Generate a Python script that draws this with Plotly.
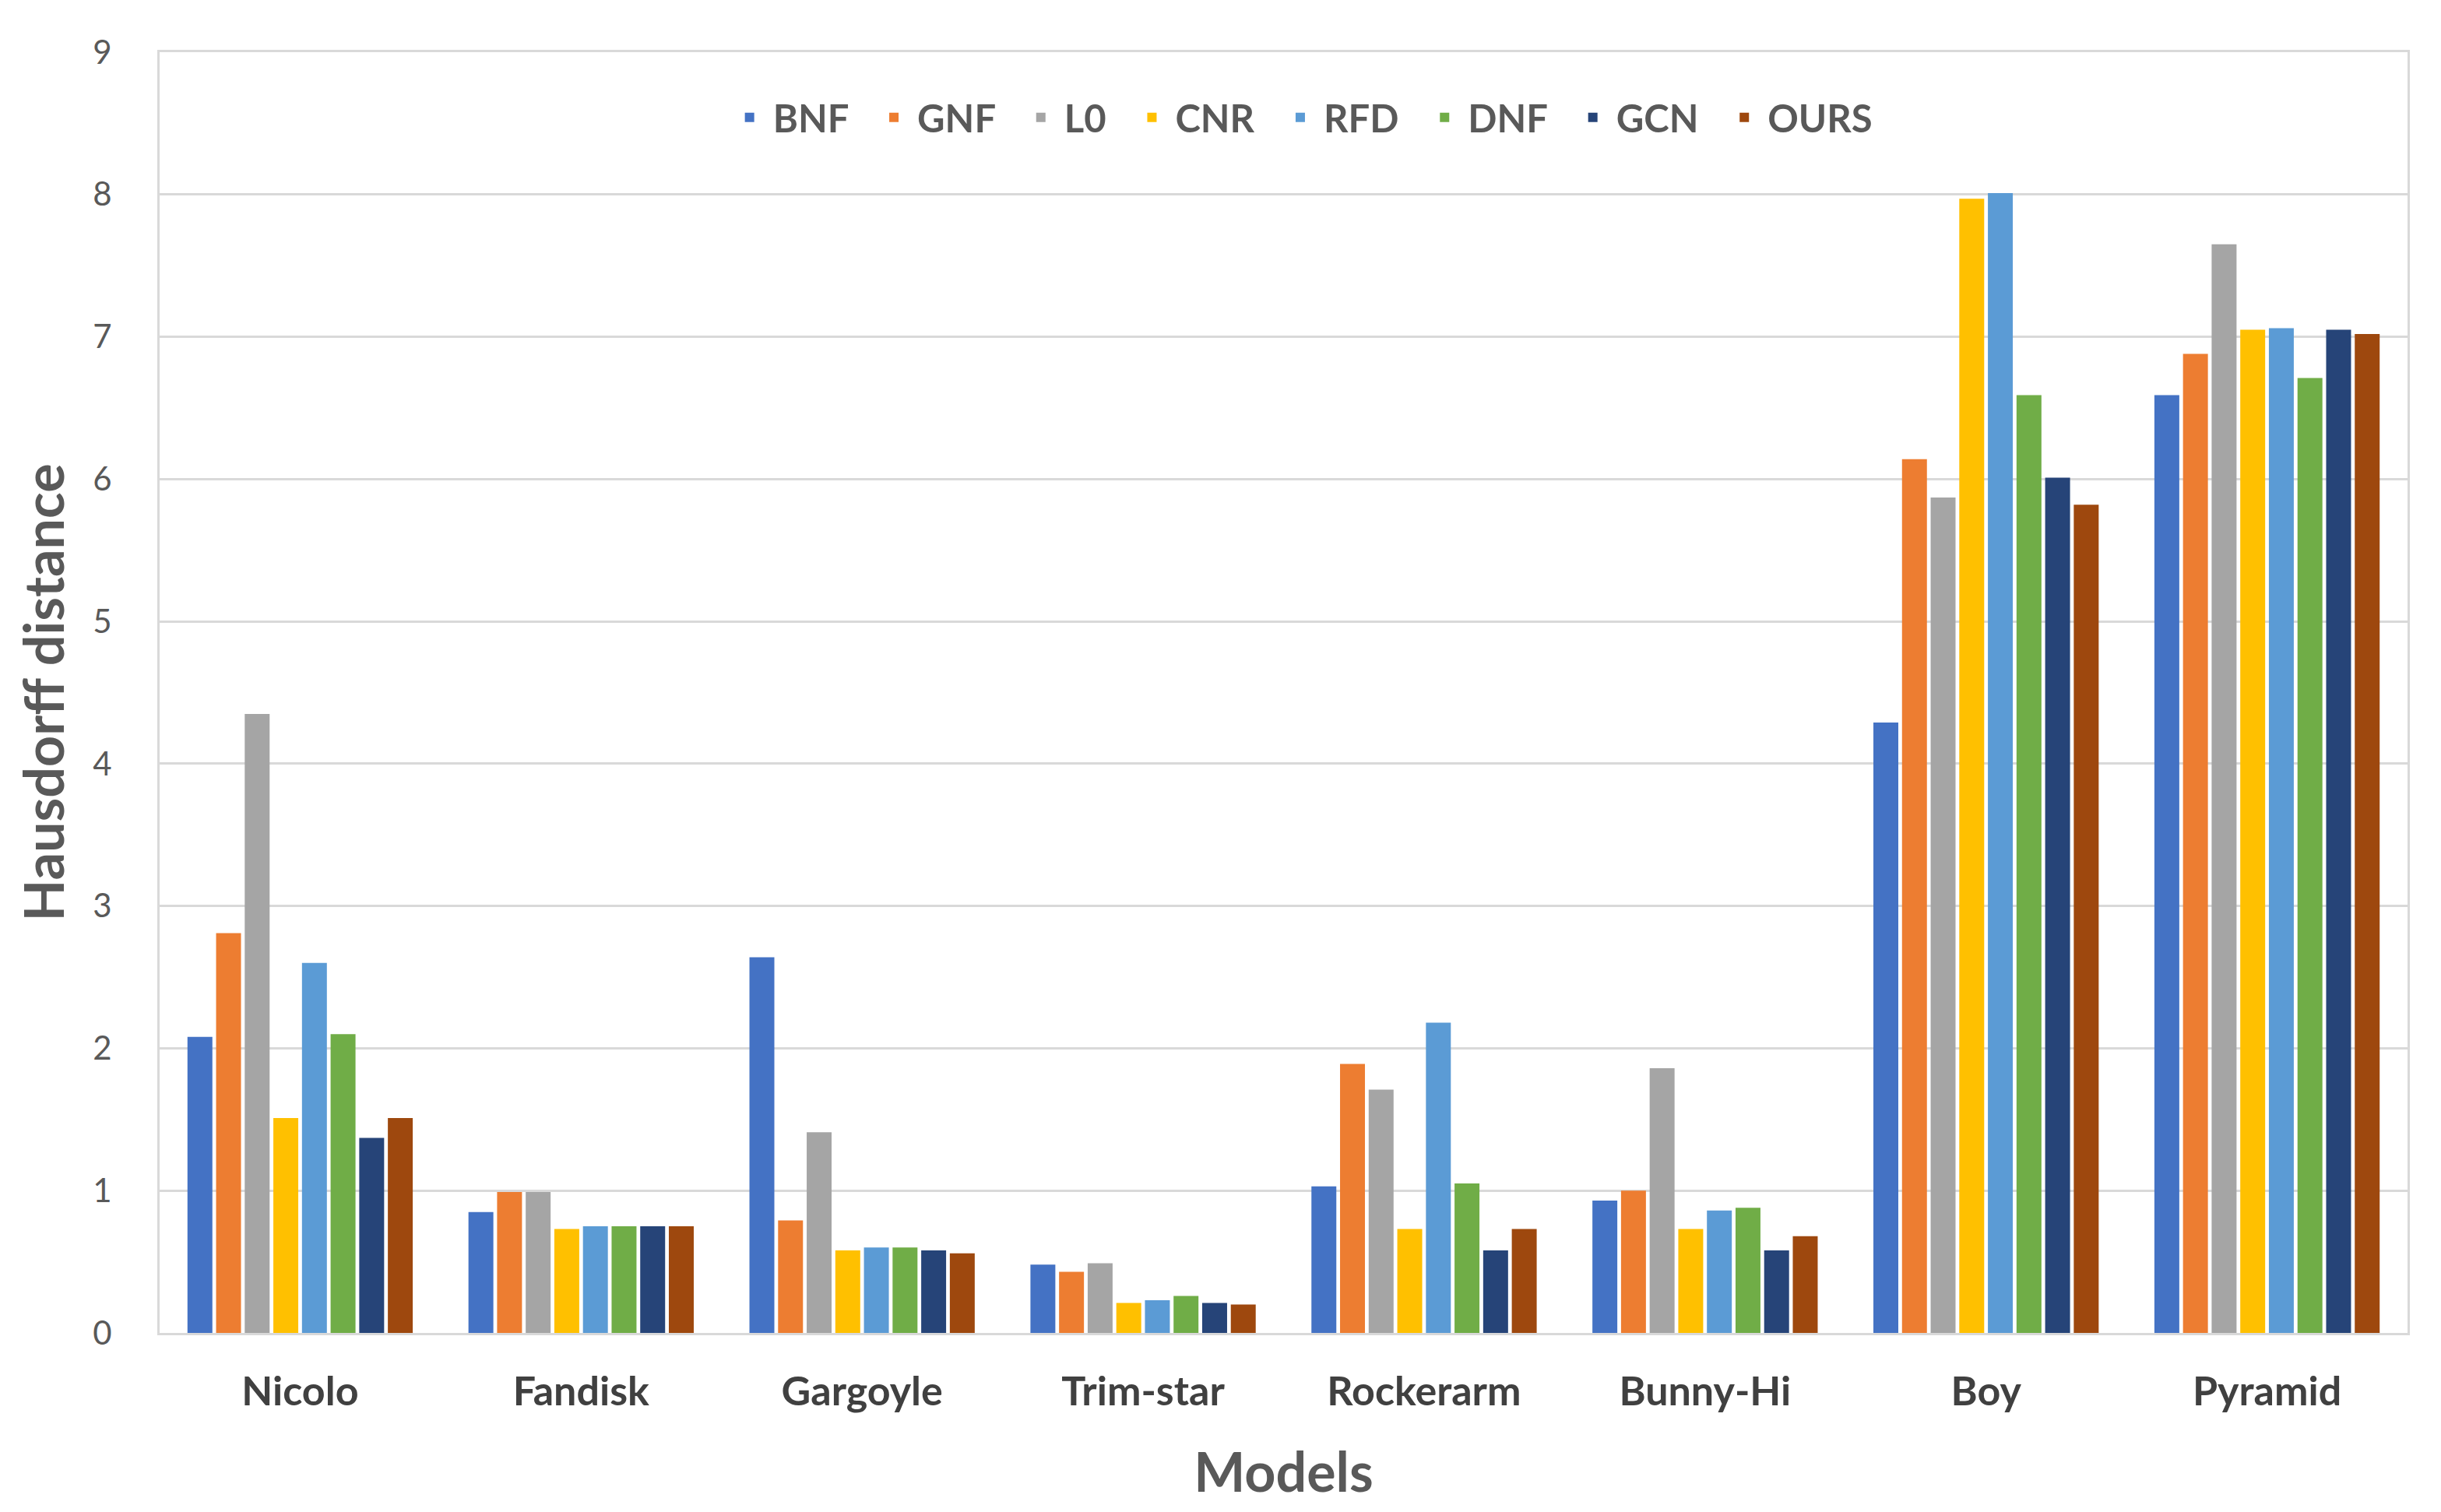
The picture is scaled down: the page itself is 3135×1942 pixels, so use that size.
import plotly.graph_objects as go

models = ["Nicolo", "Fandisk", "Gargoyle", "Trim-star", "Rockerarm", "Bunny-Hi", "Boy", "Pyramid"]

BNF  = [2.08, 0.85, 2.64, 0.48, 1.03, 0.93, 4.29, 6.59]
GNF  = [2.81, 0.99, 0.79, 0.43, 1.89, 1.00, 6.14, 6.88]
L0   = [4.35, 0.99, 1.41, 0.49, 1.71, 1.86, 5.87, 7.65]
CNR  = [1.51, 0.73, 0.58, 0.21, 0.73, 0.73, 7.97, 7.05]
RFD  = [2.60, 0.75, 0.60, 0.23, 2.18, 0.86, 8.01, 7.06]
DNF  = [2.10, 0.75, 0.60, 0.26, 1.05, 0.88, 6.59, 6.71]
GCN  = [1.37, 0.75, 0.58, 0.21, 0.58, 0.58, 6.01, 7.05]
OURS = [1.51, 0.75, 0.56, 0.20, 0.73, 0.68, 5.82, 7.02]

series_names = ["BNF", "GNF", "L0", "CNR", "RFD", "DNF", "GCN", "OURS"]
series_values = [BNF, GNF, L0, CNR, RFD, DNF, GCN, OURS]
colors = ["#4472C4", "#ED7D31", "#A5A5A5", "#FFC000", "#5B9BD5", "#70AD47", "#264478", "#9E480E"]

y_ticks = [0, 1, 2, 3, 4, 5, 6, 7, 8, 9]

fig = go.Figure()
for name, vals, col in zip(series_names, series_values, colors):
    fig.add_trace(go.Bar(x=models, y=vals, name=name + "\u00a0\u00a0",
                         marker=dict(color=col, line=dict(width=0))))

FONT = "Lato"
fig.update_layout(
    width=3135, height=1942,
    paper_bgcolor="white", plot_bgcolor="white",
    barmode="group", bargap=0.185, bargroupgap=0.13,
    margin=dict(l=197, r=51, t=59, b=238),
    font=dict(family=FONT, color="#595959"),
    legend=dict(
        orientation="h", x=0.512, xanchor="center", y=0.949, yanchor="middle",
        font=dict(family=FONT, size=49, color="#595959", weight="bold"),
        bgcolor="rgba(0,0,0,0)", itemwidth=50, tracegroupgap=0,
    ),
    xaxis=dict(
        title=dict(text="<b>Models</b>", font=dict(family=FONT, size=70, color="#595959"), standoff=52),
        tickfont=dict(family=FONT, size=52, color="#404040", weight="bold"),
        showline=True, linecolor="#D9D9D9", linewidth=3, mirror=True,
        ticks="", ticklabelstandoff=28,
    ),
    yaxis=dict(
        title=dict(text="<b>Hausdorff distance</b>", font=dict(family=FONT, size=70, color="#595959"), standoff=14),
        range=[0, 9], tickvals=y_ticks,
        tickfont=dict(family=FONT, size=42, color="#595959"),
        showgrid=True, gridcolor="#D9D9D9", gridwidth=3,
        showline=True, linecolor="#D9D9D9", linewidth=3, mirror=True,
        zeroline=False, ticks="", ticklabelstandoff=50,
    ),
)

fig.write_html("out.html")
